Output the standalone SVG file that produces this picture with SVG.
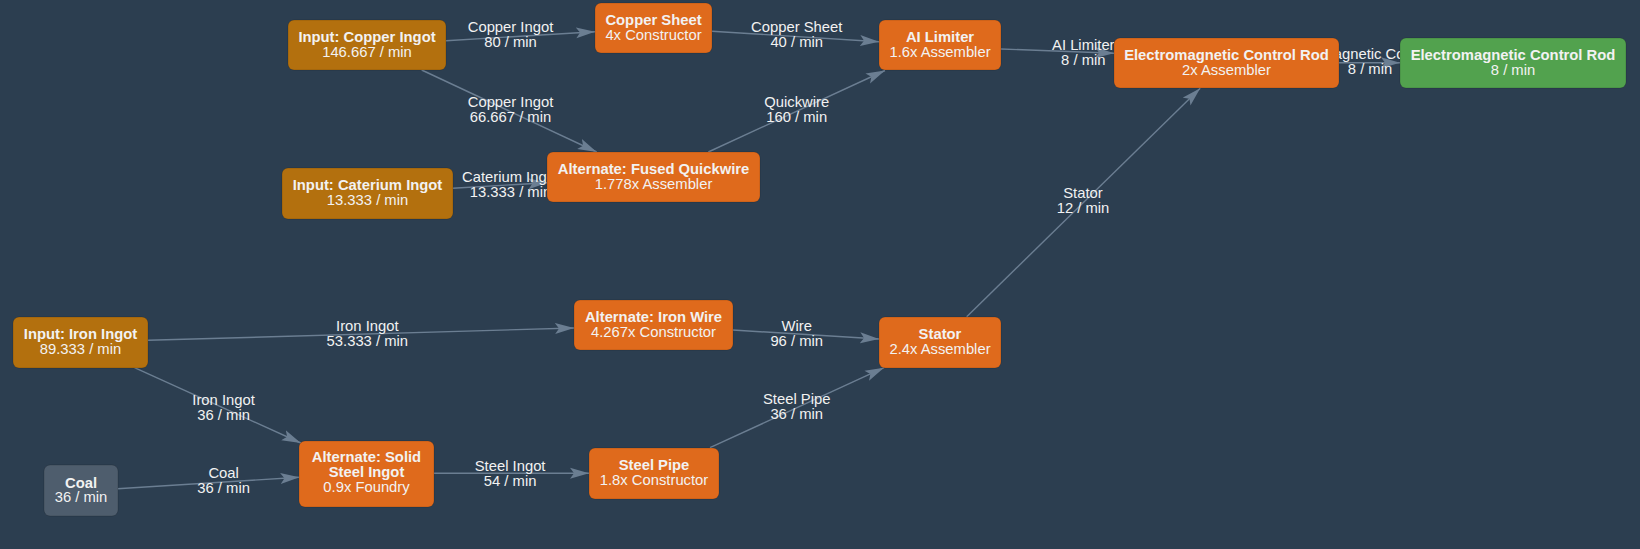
<svg xmlns="http://www.w3.org/2000/svg" width="1640" height="549" viewBox="0 0 1640 549">
<defs>
<marker id="arr" markerUnits="userSpaceOnUse" markerWidth="20" markerHeight="12" refX="19" refY="6" orient="auto">
<path d="M0,0.5 L19,6 L0,11.5 L4,6 z" fill="#6b7e92"/>
</marker>
<style>
.bg{fill:#2c3e50}
.n rect{stroke:rgba(0,0,0,0.15);stroke-width:1}
.in rect{fill:#b3700e}
.pr rect{fill:#df6a1c}
.out rect{fill:#52a24e}
.raw rect{fill:#4e5d6d}
text{font-family:"Liberation Sans",Arial,sans-serif;font-size:14.8px;fill:#f2f2f2;text-anchor:middle}
.t{font-weight:bold}
.e path{fill:none;stroke:#6b7e92;stroke-width:1.4;marker-end:url(#arr)}
</style>
</defs>
<rect class="bg" x="0" y="0" width="1640" height="549"/>
<g id="connectors" class="e">
<path d="M446,40.7 L595,31.7"/>
<path d="M421.7,70 L596.7,152"/>
<path d="M452.7,188.3 L547.3,182.7"/>
<path d="M712,31.3 L879,41.7"/>
<path d="M708.3,152 L885,70.5"/>
<path d="M1001,49 L1114,53.3"/>
<path d="M1339,62.7 L1400,62.7"/>
<path d="M966.7,316.7 L1200.2,88.3"/>
<path d="M148,340.3 L574,328"/>
<path d="M134.5,367.7 L300.8,443"/>
<path d="M117.5,488.7 L299.4,477.3"/>
<path d="M434,473.3 L589,473.3"/>
<path d="M732.7,330 L879,339"/>
<path d="M710,447.7 L884,367.7"/>
</g>
<g id="edge-labels">
<text x="510.5" y="32.3">Copper Ingot</text><text x="510.5" y="47.3">80 / min</text>
<text x="510.5" y="107.3">Copper Ingot</text><text x="510.5" y="122.3">66.667 / min</text>
<text x="510.5" y="181.7">Caterium Ingot</text><text x="510.5" y="196.7">13.333 / min</text>
<text x="796.7" y="32.3">Copper Sheet</text><text x="796.7" y="47.3">40 / min</text>
<text x="796.7" y="107.3">Quickwire</text><text x="796.7" y="122.3">160 / min</text>
<text x="1083.3" y="50">AI Limiter</text><text x="1083.3" y="65">8 / min</text>
<text x="1370" y="58.5">Electromagnetic Control Rod</text><text x="1370" y="73.5">8 / min</text>
<text x="1083" y="198">Stator</text><text x="1083" y="213">12 / min</text>
<text x="367.3" y="330.5">Iron Ingot</text><text x="367.3" y="345.5">53.333 / min</text>
<text x="223.6" y="404.5">Iron Ingot</text><text x="223.6" y="419.5">36 / min</text>
<text x="223.6" y="478">Coal</text><text x="223.6" y="493">36 / min</text>
<text x="510.1" y="470.5">Steel Ingot</text><text x="510.1" y="485.5">54 / min</text>
<text x="796.7" y="330.5">Wire</text><text x="796.7" y="345.5">96 / min</text>
<text x="796.7" y="404.3">Steel Pipe</text><text x="796.7" y="419.3">36 / min</text>
</g>
<g id="in-copper" class="n in"><rect x="288" y="20" width="158" height="50" rx="6"/><text class="t" x="367" y="41.7">Input: Copper Ingot</text><text x="367" y="56.7">146.667 / min</text></g>
<g id="copper-sheet" class="n pr"><rect x="595" y="3" width="117" height="50" rx="6"/><text class="t" x="653.5" y="24.7">Copper Sheet</text><text x="653.5" y="39.7">4x Constructor</text></g>
<g id="in-caterium" class="n in"><rect x="282" y="168" width="171" height="51" rx="6"/><text class="t" x="367.5" y="190">Input: Caterium Ingot</text><text x="367.5" y="205">13.333 / min</text></g>
<g id="fused-quickwire" class="n pr"><rect x="547" y="152" width="213" height="50" rx="6"/><text class="t" x="653.5" y="173.7">Alternate: Fused Quickwire</text><text x="653.5" y="188.7">1.778x Assembler</text></g>
<g id="ai-limiter" class="n pr"><rect x="879" y="20" width="122" height="50" rx="6"/><text class="t" x="940" y="41.7">AI Limiter</text><text x="940" y="56.7">1.6x Assembler</text></g>
<g id="emcr" class="n pr"><rect x="1114" y="38" width="225" height="50" rx="6"/><text class="t" x="1226.5" y="59.7">Electromagnetic Control Rod</text><text x="1226.5" y="74.7">2x Assembler</text></g>
<g id="out-emcr" class="n out"><rect x="1400" y="38" width="226" height="50" rx="6"/><text class="t" x="1513" y="59.7">Electromagnetic Control Rod</text><text x="1513" y="74.7">8 / min</text></g>
<g id="in-iron" class="n in"><rect x="13" y="317" width="135" height="51" rx="6"/><text class="t" x="80.5" y="339">Input: Iron Ingot</text><text x="80.5" y="354">89.333 / min</text></g>
<g id="iron-wire" class="n pr"><rect x="574" y="300" width="159" height="50" rx="6"/><text class="t" x="653.5" y="321.7">Alternate: Iron Wire</text><text x="653.5" y="336.7">4.267x Constructor</text></g>
<g id="coal" class="n raw"><rect x="44" y="465" width="74" height="51" rx="6"/><text class="t" x="81" y="487.5">Coal</text><text x="81" y="502">36 / min</text></g>
<g id="solid-steel" class="n pr"><rect x="299" y="441" width="135" height="66" rx="6"/><text class="t" x="366.5" y="462.3">Alternate: Solid</text><text class="t" x="366.5" y="477.3">Steel Ingot</text><text x="366.5" y="492.3">0.9x Foundry</text></g>
<g id="steel-pipe" class="n pr"><rect x="589" y="448" width="130" height="51" rx="6"/><text class="t" x="654" y="470">Steel Pipe</text><text x="654" y="485">1.8x Constructor</text></g>
<g id="stator" class="n pr"><rect x="879" y="317" width="122" height="51" rx="6"/><text class="t" x="940" y="339">Stator</text><text x="940" y="354">2.4x Assembler</text></g>
</svg>
